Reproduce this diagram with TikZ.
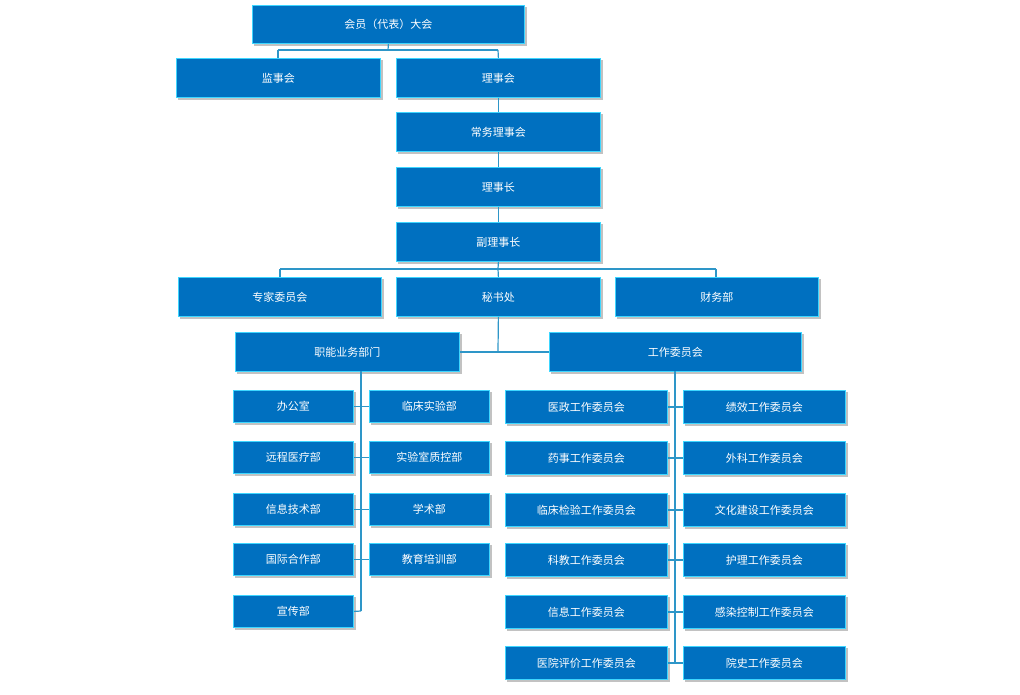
\documentclass[tikz,border=0pt]{standalone}
\usepackage{fontspec}
\setmainfont{Noto Sans CJK SC}
\begin{document}
\begin{tikzpicture}[x=1pt,y=-1pt,
  bx/.style={draw=white!60!blue!40!cyan,line width=0.8pt,fill={rgb,255:red,0;green,112;blue,192},text=white,font=\fontsize{11}{13}\selectfont,anchor=north west,inner sep=0pt},
  ln/.style={draw={rgb,255:red,46;green,150;blue,200},line width=1.2pt}]
\useasboundingbox (0,0) rectangle (1020,694);
\newcommand{\B}[6]{%
  \fill[black!40,opacity=0.6] (#1+2,#2+2) rectangle (#3+3,#4+3);
  \node[bx,minimum width=#3-#1,minimum height=#4-#2] (#5) at (#1,#2) {#6};}
\B{252}{5}{524}{43}{top}{会员（代表）大会}
\B{176}{58}{380}{97}{jsh}{监事会}
\B{396}{58}{600}{97}{lsh}{理事会}
\B{396}{112}{600}{151}{cw}{常务理事会}
\B{396}{167}{600}{206}{lsz}{理事长}
\B{396}{222}{600}{261}{flsz}{副理事长}
\B{178}{277}{381}{316}{zj}{专家委员会}
\B{396}{277}{600}{316}{msc}{秘书处}
\B{615}{277}{818}{316}{cwb}{财务部}
\B{235}{332}{459}{371}{zn}{职能业务部门}
\B{549}{332}{801}{371}{gz}{工作委员会}
% connectors
\draw[ln] (top.south) -- (388,50) coordinate (c1);
\draw[ln] (278,50) -- (498,50);
\draw[ln] (278,50) -- (jsh.north-|278,0);
\draw[ln] (498,50) -- (lsh.north);
\draw[ln] (lsh.south) -- (cw.north);
\draw[ln] (cw.south) -- (lsz.north);
\draw[ln] (lsz.south) -- (flsz.north);
\draw[ln] (flsz.south) -- (498,269);
\draw[ln] (280,269) -- (716,269);
\draw[ln] (280,269) -- (zj.north-|280,0);
\draw[ln] (498,269) -- (msc.north);
\draw[ln] (716,269) -- (cwb.north-|716,0);
\draw[ln] (msc.south) -- (498,351);
\draw[ln] (zn.east) -- (gz.west);
\draw[ln] (361,371) -- (361,611);
\draw[ln] (675,371) -- (675,662);
% left column
\foreach \y/\a/\b/\n in {390/办公室/临床实验部/1,441/远程医疗部/实验室质控部/2,493/信息技术部/学术部/3,543/国际合作部/教育培训部/4}{
  \B{233}{\y}{353}{\y+32}{l\n}{\a}
  \B{369}{\y}{489}{\y+32}{r\n}{\b}
  \draw[ln] (l\n.east) -- (r\n.west);
}
\B{233}{595}{353}{627}{l5}{宣传部}
\draw[ln] (l5.east) -- (361,611);
% right column
\foreach \y/\a/\b/\n in {390/医政工作委员会/绩效工作委员会/1,441/药事工作委员会/外科工作委员会/2,493/临床检验工作委员会/文化建设工作委员会/3,543/科教工作委员会/护理工作委员会/4,595/信息工作委员会/感染控制工作委员会/5,646/医院评价工作委员会/院史工作委员会/6}{
  \B{505}{\y}{667}{\y+33}{gl\n}{\a}
  \B{683}{\y}{845}{\y+33}{gr\n}{\b}
  \draw[ln] (gl\n.east) -- (gr\n.west);
}
\end{tikzpicture}
\end{document}
